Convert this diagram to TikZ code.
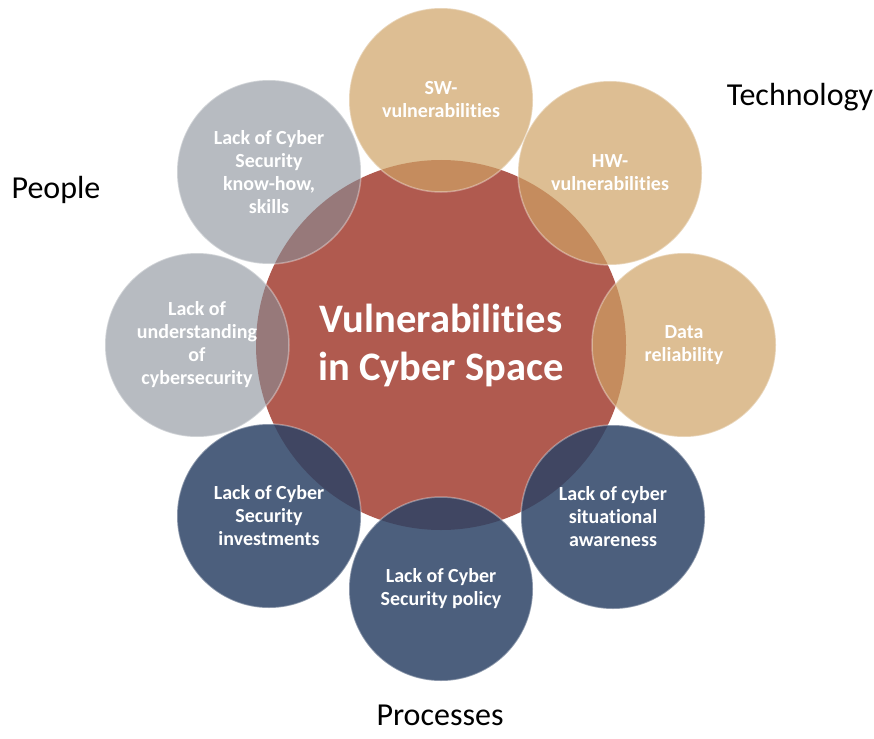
\documentclass[tikz,border=0pt]{standalone}
\usepackage{fontspec}
\setmainfont{Carlito}[Ligatures=NoCommon]
\usepackage{tikz}
\usetikzlibrary{positioning}

\definecolor{hubred}{RGB}{176,90,79}
\definecolor{techtan}{RGB}{206,162,101}
\definecolor{peoplegray}{RGB}{135,142,152}
\definecolor{procblue}{RGB}{45,67,102}

\tikzset{hub/.style = {circle, fill=hubred, minimum size=370, inner sep=0,
                       align=center, text=white,
                       font=\fontsize{40.5}{48}\selectfont\bfseries}}
\tikzset{petal/.style = {circle, minimum size=184, inner sep=0, align=center,
                         text=white, text opacity=1,
                         draw=white, draw opacity=0.35, line width=1.5,
                         font=\fontsize{20}{23}\selectfont\bfseries}}
\tikzset{techcirc/.style = {petal, fill=techtan, fill opacity=0.7}}
\tikzset{peoplecirc/.style = {petal, fill=peoplegray, fill opacity=0.6}}
\tikzset{proccirc/.style = {petal, fill=procblue, fill opacity=0.85}}
\tikzset{group/.style = {inner sep=0, font=\fontsize{32}{38}\selectfont}}

\begin{document}
\begin{tikzpicture}[x=1pt, y=-1pt]
      \useasboundingbox (0, 0) rectangle (874, 738);

      \node [hub] (hub) at (441, 345) {Vulnerabilities\\in Cyber Space};

      % people
      \node [peoplecirc] (knowhow) at (269, 172) {Lack of Cyber\\Security\\know-how,\\skills};
      \node [peoplecirc] (understand) at (197, 345) {Lack of\\understanding\\of\\cybersecurity};

      % processes
      \node [proccirc] (invest) at (269, 516) {Lack of Cyber\\Security\\investments};
      \node [proccirc] (aware) at (613, 517) {Lack of cyber\\situational\\awareness};
      \node [proccirc] (policy) at (441, 589) {Lack of Cyber\\Security policy};

      % technology
      \node [techcirc] (sw) at (441, 100) {SW-\\vulnerabilities};
      \node [techcirc] (hw) at (610, 173) {HW-\\vulnerabilities};
      \node [techcirc] (data) at (684, 345) {Data\\reliability};

      \node [group] (tech) at (800, 97) {Technology};
      \node [group] (people) at (56, 190) {People};
      \node [group] (proc) at (440, 715) {Processes};
    \end{tikzpicture}
\end{document}
